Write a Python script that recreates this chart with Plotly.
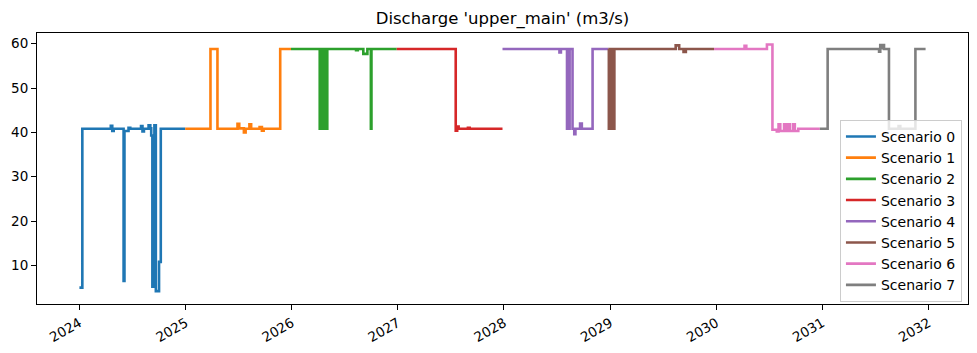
import plotly.graph_objects as go

# ---------------- data ----------------
scenario_names = ["Scenario 0", "Scenario 1", "Scenario 2", "Scenario 3",
                  "Scenario 4", "Scenario 5", "Scenario 6", "Scenario 7"]
colors = ["#1f77b4", "#ff7f0e", "#2ca02c", "#d62728",
          "#9467bd", "#8c564b", "#e377c2", "#7f7f7f"]

s0_dates = ["2024-01-01", "2024-01-11", "2024-04-18", "2024-04-23", "2024-04-28",
            "2024-06-01", "2024-06-04", "2024-06-18", "2024-06-24", "2024-07-31",
            "2024-08-05", "2024-08-10", "2024-08-26", "2024-09-01", "2024-09-04",
            "2024-09-08", "2024-09-15", "2024-09-20", "2024-10-01", "2024-10-07",
            "2024-12-30"]
s0_values = [5.0, 40.8, 41.5, 40.3, 40.8,
             6.5, 40.3, 41.0, 40.8, 41.4,
             40.2, 40.8, 41.6, 40.9, 39.3,
             5.2, 41.6, 4.2, 10.8, 40.8,
             40.8]

s1_dates = ["2024-12-30", "2025-03-27", "2025-04-20", "2025-06-28", "2025-07-04",
            "2025-07-20", "2025-07-26", "2025-08-08", "2025-08-14", "2025-09-12",
            "2025-09-20", "2025-09-26", "2025-11-22", "2025-12-29"]
s1_values = [40.8, 58.8, 40.8, 41.9, 40.9,
             40.0, 40.8, 41.8, 40.8, 41.2,
             40.4, 40.8, 58.8, 58.8]

s2_dates = ["2025-12-29", "2026-04-07", "2026-04-10", "2026-04-13", "2026-04-16",
            "2026-04-19", "2026-04-22", "2026-04-25", "2026-04-28", "2026-05-01",
            "2026-05-03", "2026-08-10", "2026-08-16", "2026-09-04", "2026-09-18",
            "2026-09-30", "2026-10-02", "2026-12-28"]
s2_values = [58.8, 40.8, 58.8, 40.8, 58.8,
             40.8, 58.8, 40.8, 58.8, 40.8,
             58.8, 58.5, 58.8, 57.7, 58.8,
             40.8, 58.8, 58.8]

s3_dates = ["2026-12-28", "2027-07-19", "2027-07-24", "2027-07-29", "2027-08-30",
            "2027-09-05", "2027-12-27"]
s3_values = [58.8, 40.4, 41.3, 40.8, 41.0,
             40.8, 40.8]

s4_dates = ["2027-12-27", "2028-07-10", "2028-07-15", "2028-08-05", "2028-08-08",
            "2028-08-11", "2028-08-14", "2028-08-24", "2028-08-30", "2028-09-03",
            "2028-09-19", "2028-09-25", "2028-11-01", "2028-12-25"]
s4_values = [58.8, 58.0, 58.8, 40.8, 58.8,
             40.8, 58.8, 40.8, 39.6, 40.8,
             42.0, 40.8, 58.8, 58.8]

s5_dates = ["2028-12-25", "2028-12-27", "2028-12-30", "2029-01-02", "2029-01-05",
            "2029-01-08", "2029-01-11", "2029-01-13", "2029-01-15", "2029-08-14",
            "2029-08-26", "2029-09-10", "2029-09-18", "2029-12-24"]
s5_values = [58.8, 40.8, 58.8, 40.8, 58.8,
             40.8, 58.8, 40.8, 58.8, 59.6,
             58.8, 58.1, 58.8, 58.8]

s6_dates = ["2029-12-24", "2030-04-08", "2030-04-14", "2030-06-24", "2030-07-13",
            "2030-07-28", "2030-08-03", "2030-08-09", "2030-08-22", "2030-08-28",
            "2030-09-05", "2030-09-11", "2030-09-22", "2030-09-28", "2030-10-10",
            "2030-12-23"]
s6_values = [58.8, 59.5, 58.8, 59.8, 40.6,
             40.2, 41.8, 40.3, 41.8, 40.3,
             41.8, 40.3, 41.8, 40.3, 40.8,
             40.8]

s7_dates = ["2030-12-23", "2031-01-19", "2031-07-15", "2031-07-19", "2031-07-23",
            "2031-07-27", "2031-08-01", "2031-08-18", "2031-09-20", "2031-09-26",
            "2031-11-17", "2031-12-22"]
s7_values = [40.8, 58.8, 58.2, 59.7, 59.0,
             59.7, 58.8, 40.8, 41.4, 40.8,
             58.8, 58.8]

all_dates = [s0_dates, s1_dates, s2_dates, s3_dates, s4_dates, s5_dates, s6_dates, s7_dates]
all_values = [s0_values, s1_values, s2_values, s3_values, s4_values, s5_values, s6_values, s7_values]

year_ticks = ["2024-01-01", "2025-01-01", "2026-01-01", "2027-01-01", "2028-01-01",
              "2029-01-01", "2030-01-01", "2031-01-01", "2032-01-01"]
year_labels = ["2024", "2025", "2026", "2027", "2028", "2029", "2030", "2031", "2032"]
y_ticks = [10, 20, 30, 40, 50, 60]

title_text = "Discharge 'upper_main' (m3/s)"

# ---------------- figure ----------------
fig = go.Figure()
for name, col, d, v in zip(scenario_names, colors, all_dates, all_values):
    fig.add_trace(go.Scatter(x=d, y=v, mode="lines", name=name,
                             line=dict(color=col, width=2.6, shape="hv")))

font_family = "DejaVu Sans"
fig.update_layout(
    width=977, height=353,
    margin=dict(l=37, r=9, t=33, b=49),
    plot_bgcolor="white", paper_bgcolor="white",
    font=dict(family=font_family, size=13.5, color="black"),
    title=dict(text=title_text, x=0.5, xref="paper", xanchor="center",
               y=1 - 18 / 353, yref="container", yanchor="middle",
               font=dict(family=font_family, size=16.5, color="black")),
    legend=dict(x=0.9935, y=0.008, xanchor="right", yanchor="bottom",
                bgcolor="rgba(255,255,255,0.8)", bordercolor="#cccccc", borderwidth=1,
                font=dict(family=font_family, size=14, color="black")),
    showlegend=True,
)
fig.update_xaxes(
    type="date", range=["2023-08-08", "2032-05-16"],
    tickvals=year_ticks, ticktext=year_labels, tickangle=-30,
    showline=True, linecolor="black", linewidth=1.1, mirror=True,
    ticks="outside", ticklen=5, tickwidth=1.1, tickcolor="black",
    showgrid=False, zeroline=False,
    tickfont=dict(family=font_family, size=13.5, color="black"),
)
fig.update_yaxes(
    range=[1.3, 62.4], tickvals=y_ticks,
    showline=True, linecolor="black", linewidth=1.1, mirror=True,
    ticks="outside", ticklen=5, tickwidth=1.1, tickcolor="black",
    showgrid=False, zeroline=False,
    tickfont=dict(family=font_family, size=13.5, color="black"),
)

fig.write_html("out.html")
